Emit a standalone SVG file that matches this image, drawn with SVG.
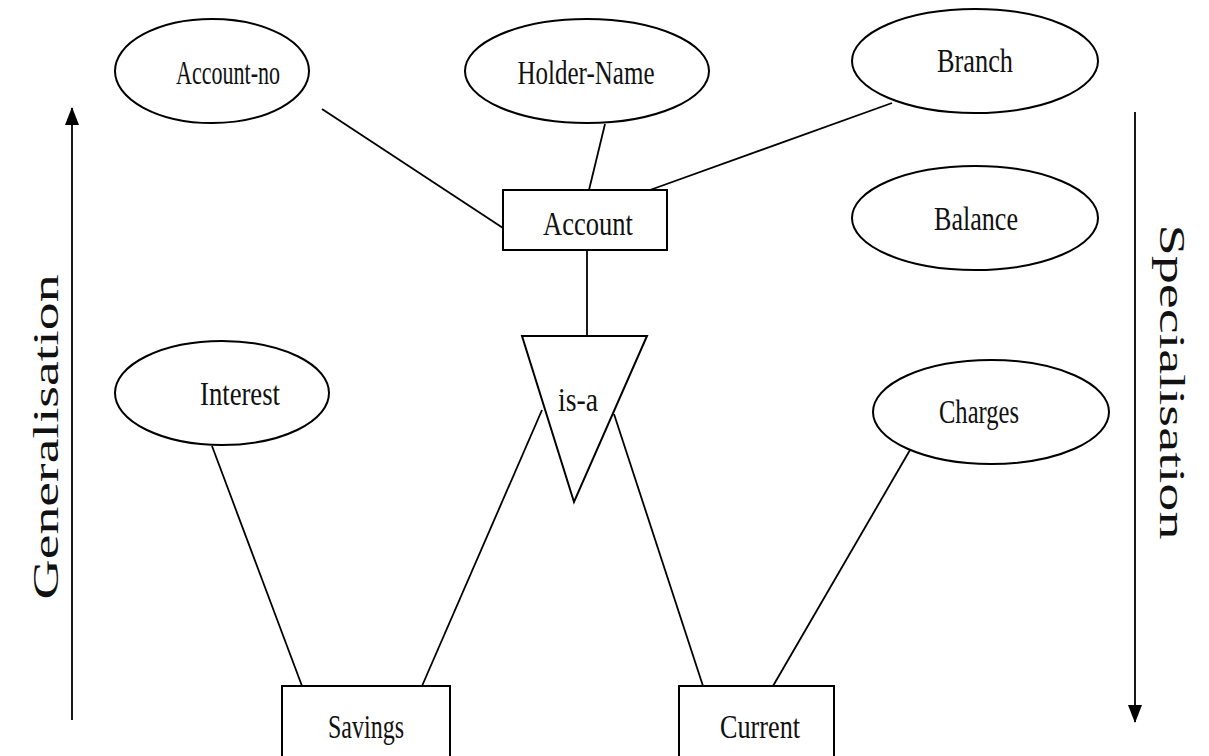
<svg xmlns="http://www.w3.org/2000/svg" width="1209" height="756" viewBox="0 0 1209 756">
<defs>
<style>
.shape{fill:#fff;stroke:#000;stroke-width:2}
.line{stroke:#000;stroke-width:1.8;fill:none}
.lbl{font-family:"Liberation Serif","Times New Roman",serif;font-size:34px;fill:#111;text-anchor:middle}
.side{font-family:"Liberation Serif","Times New Roman",serif;font-size:36px;fill:#111;text-anchor:middle}
</style>
<marker id="arrB" viewBox="0 0 18 16" refX="17" refY="8" markerWidth="18" markerHeight="16" markerUnits="userSpaceOnUse" orient="auto">
<path d="M0,1 L18,8 L0,15 z" fill="#000"/>
</marker>
</defs>
<rect width="1209" height="756" fill="#fff"/>
<g id="connectors">
<line class="line" x1="322" y1="109" x2="503" y2="228"/>
<line class="line" x1="605" y1="124" x2="589" y2="190"/>
<line class="line" x1="892" y1="103" x2="650" y2="190"/>
<line class="line" x1="587" y1="250" x2="587" y2="336"/>
<line class="line" x1="212" y1="446" x2="302" y2="686"/>
<line class="line" x1="542" y1="410" x2="422" y2="686"/>
<line class="line" x1="614" y1="414" x2="703" y2="686"/>
<line class="line" x1="910" y1="450" x2="773" y2="686"/>
</g>
<g id="account-no"><ellipse class="shape" cx="212" cy="71" rx="97" ry="52"/><text class="lbl" x="228" y="84" textLength="104" lengthAdjust="spacingAndGlyphs">Account-no</text></g>
<g id="holder-name"><ellipse class="shape" cx="587" cy="71" rx="122" ry="52"/><text class="lbl" x="586" y="84" textLength="137" lengthAdjust="spacingAndGlyphs">Holder-Name</text></g>
<g id="branch"><ellipse class="shape" cx="975" cy="61" rx="123" ry="52"/><text class="lbl" x="975" y="72" textLength="76" lengthAdjust="spacingAndGlyphs">Branch</text></g>
<g id="balance"><ellipse class="shape" cx="975" cy="218" rx="123" ry="52"/><text class="lbl" x="976" y="230" textLength="84" lengthAdjust="spacingAndGlyphs">Balance</text></g>
<g id="account"><rect class="shape" x="503" y="190" width="164" height="60"/><text class="lbl" x="588" y="235" textLength="90" lengthAdjust="spacingAndGlyphs">Account</text></g>
<g id="isa"><polygon class="shape" points="522,336 647,336 574,502"/><text class="lbl" x="578" y="411" textLength="40" lengthAdjust="spacingAndGlyphs">is-a</text></g>
<g id="interest"><ellipse class="shape" cx="222" cy="393" rx="107" ry="52"/><text class="lbl" x="240" y="405" textLength="80" lengthAdjust="spacingAndGlyphs">Interest</text></g>
<g id="charges"><ellipse class="shape" cx="991" cy="412" rx="118" ry="52"/><text class="lbl" x="979" y="423" textLength="80" lengthAdjust="spacingAndGlyphs">Charges</text></g>
<g id="savings"><rect class="shape" x="282" y="686" width="168" height="72"/><text class="lbl" x="366" y="738" textLength="76" lengthAdjust="spacingAndGlyphs">Savings</text></g>
<g id="current"><rect class="shape" x="679" y="686" width="155" height="72"/><text class="lbl" x="760" y="738" textLength="80" lengthAdjust="spacingAndGlyphs">Current</text></g>
<g id="generalisation">
<line class="line" x1="72" y1="720" x2="72" y2="108" marker-end="url(#arrB)"/>
<text class="side" transform="translate(58,437) rotate(-90)" textLength="325" lengthAdjust="spacingAndGlyphs">Generalisation</text>
</g>
<g id="specialisation">
<line class="line" x1="1135" y1="112" x2="1135" y2="722" marker-end="url(#arrB)"/>
<text class="side" transform="translate(1160,382) rotate(90)" textLength="315" lengthAdjust="spacingAndGlyphs">Specialisation</text>
</g>
</svg>
